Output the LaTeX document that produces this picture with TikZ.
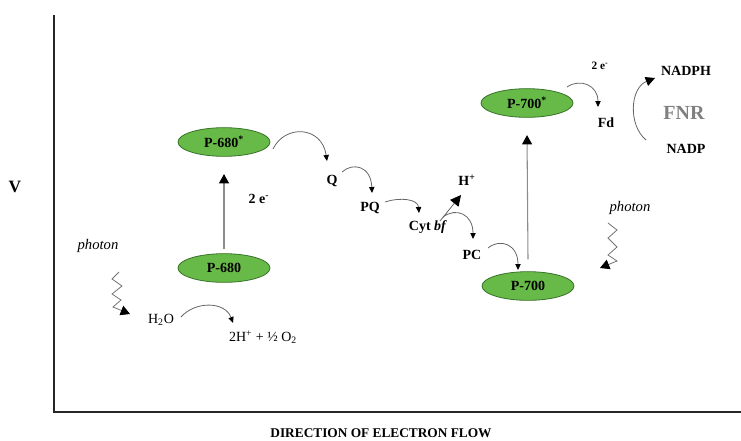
\documentclass[tikz,border=0pt]{standalone}
\usepackage{fontspec}
\setmainfont{Liberation Serif}
\usetikzlibrary{arrows.meta,shapes.geometric}
\definecolor{leaf}{RGB}{104,186,72}
\definecolor{leafdark}{RGB}{55,115,40}
\begin{document}
\begin{tikzpicture}[x=0.75pt,y=-0.75pt,
  txt/.style={font=\fontsize{10.5}{12}\selectfont, inner sep=1pt},
  lbl/.style={font=\fontsize{10.5}{12}\selectfont\bfseries, inner sep=1pt},
  phot/.style={font=\fontsize{11}{13}\selectfont\itshape, inner sep=1pt},
  state/.style={ellipse, draw=leafdark, fill=leaf, line width=0.6pt,
    minimum width=69pt, minimum height=21.5pt, inner sep=0pt,
    font=\fontsize{10.5}{12}\selectfont\bfseries},
  axis/.style={line width=2.2pt, black!85},
  curv/.style={draw=black!60, line width=0.6pt,
    -{Triangle[length=4.5pt,width=4pt,color=black]}},
  uparrow/.style={draw=black!45, line width=0.8pt,
    -{Triangle[length=7pt,width=7.5pt,color=black]}},
  zig/.style={draw=black!55, line width=0.6pt,
    -{Triangle[length=7pt,width=7.5pt,color=black]}}
]
\useasboundingbox (0,0) rectangle (741,440);

% axes
\coordinate (ytop) at (54,15);
\coordinate (orig) at (54,412);
\coordinate (xend) at (741,412);
\draw[axis] (ytop) -- (orig) -- (xend);
\node[font=\fontsize{13}{15}\selectfont\bfseries] (V) at (15,187) {V};
\node[font=\fontsize{10}{12}\selectfont\bfseries] (dir) at (381,433) {DIRECTION OF ELECTRON FLOW};

% photosystem II
\node[state] (P680s) at (224,142) {P-680\textsuperscript{*}};
\node[state] (P680) at (224,268) {P-680};
\draw[uparrow] ([yshift=3pt]P680.north) -- ([yshift=-13pt]P680s.south);
\node[lbl] (e1) at (259,199) {2 e\textsuperscript{-}};

% left photon
\node[phot] (ph1) at (98,246) {photon};
\coordinate (z1) at (119,272);
\draw[zig] (z1) -- (112,279) -- (122,286) -- (112,294) -- (121,300) -- (113,307) -- (130,314);

\node[txt] (H2O) at (161,320) {H\textsubscript{2}O};
\node[txt] (prod) at (263,337) {2H\textsuperscript{+} + ½ O\textsubscript{2}};
\coordinate (h1) at (181,317);
\coordinate (h2) at (233,323);
\draw[curv] (h1) .. controls (195,301) and (225,301) .. (h2);

% electron transport chain
\node[lbl] (Q) at (332,181) {Q};
\node[lbl] (PQ) at (370,208) {PQ};
\node[lbl] (Cyt) at (428,227) {Cyt \textit{bf}};
\node[lbl] (H) at (467,180) {H\textsuperscript{+}};
\node[lbl] (PC) at (472,255) {PC};

\coordinate (c1) at (273,149);
\coordinate (c2) at (327,161);
\draw[curv] (c1) .. controls (285,124) and (322,126) .. (c2);
\coordinate (c3) at (342,172);
\coordinate (c4) at (372,193);
\draw[curv] (c3) .. controls (353,162) and (371,166) .. (c4);
\coordinate (c5) at (385,202);
\coordinate (c6) at (419,213);
\draw[curv] (c5) .. controls (400,197) and (418,199) .. (c6);
\coordinate (c7) at (440,221);
\coordinate (c8) at (461,195);
\draw[draw=black!60, line width=0.6pt,
  -{Triangle[length=8pt,width=8pt,color=black]}] (c7) -- (c8);
\coordinate (c9) at (443,217);
\coordinate (c10) at (473,239);
\draw[curv] (c9) .. controls (456,207) and (473,214) .. (c10);
\coordinate (c11) at (488,248);
\coordinate (c12) at (518,270);
\draw[curv] (c11) .. controls (500,238) and (518,244) .. (c12);

% photosystem I
\node[state] (P700) at (528,286) {P-700};
\node[state] (P700s) at (527,103) {P-700\textsuperscript{*}};
\draw[uparrow] ([yshift=9pt]P700.north) -- ([yshift=-13pt]P700s.south);

% right photon
\node[phot] (ph2) at (630,208) {photon};
\coordinate (z2) at (608,223);
\draw[zig] (z2) -- (617,230) -- (608,238) -- (617,247) -- (608,255) -- (617,261) -- (600,268);

% Fd / FNR
\node[font=\fontsize{8.5}{10}\selectfont\bfseries, inner sep=1pt] (e2) at (600,66) {2 e\textsuperscript{-}};
\node[lbl] (Fd) at (606,123) {Fd};
\coordinate (f1) at (567,87);
\coordinate (f2) at (598,107);
\draw[curv] (f1) .. controls (580,78) and (598,85) .. (f2);

\node[lbl] (NADPH) at (686,71) {NADPH};
\node[lbl] (NADP) at (686,149) {NADP};
\node[font=\fontsize{15}{17}\selectfont\bfseries, text=black!50] (FNR) at (684,113) {FNR};
\coordinate (n1) at (646,140);
\coordinate (n2) at (655,78);
\draw[draw=black!60, line width=0.6pt,
  -{Triangle[length=7pt,width=7pt,color=black]}] (n1) .. controls (628,125) and (630,88) .. (n2);
\end{tikzpicture}
\end{document}
